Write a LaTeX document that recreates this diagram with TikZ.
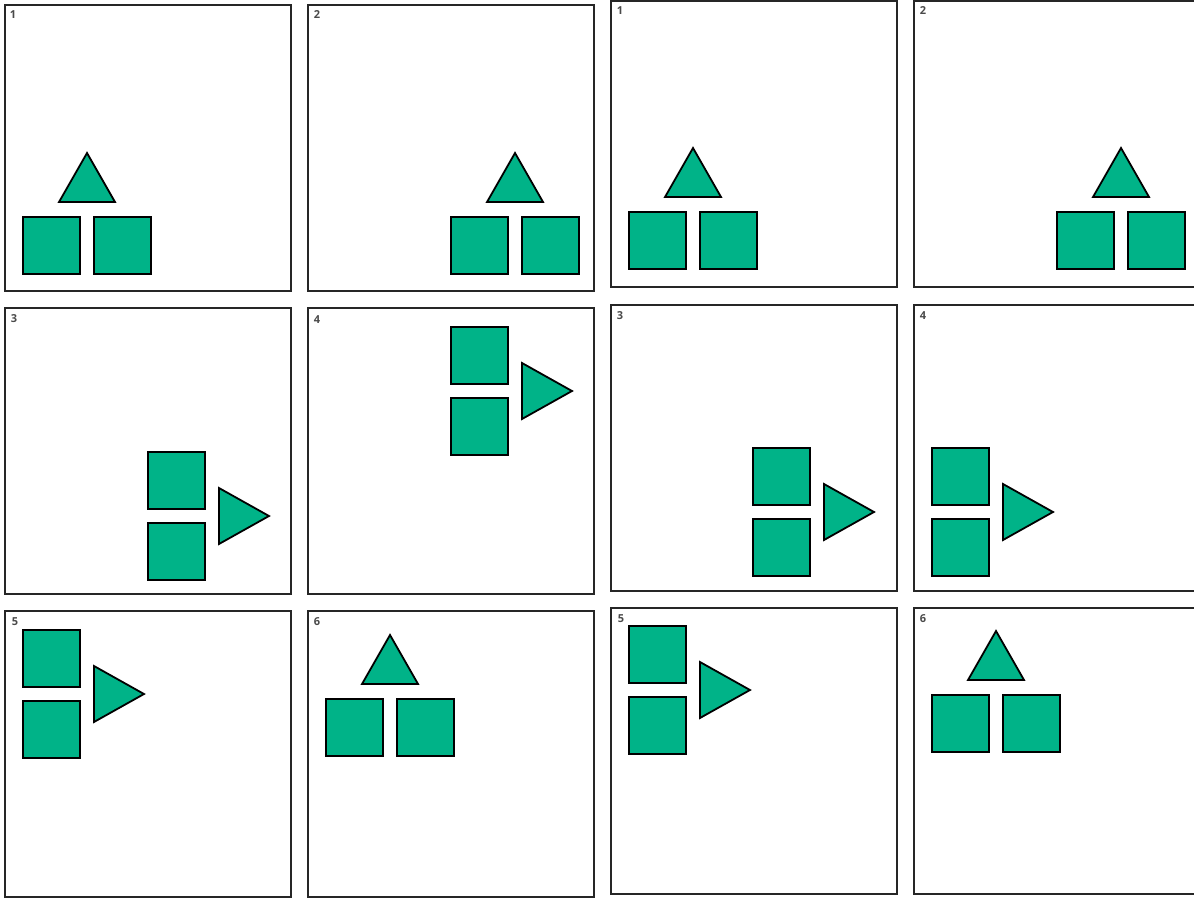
\documentclass[tikz,border=0pt]{standalone}
\usepackage{fontspec}
\setmainfont{Open Sans}
\definecolor{shapegreen}{HTML}{00B388}
\definecolor{lblgray}{HTML}{4A4A4A}
\tikzset{
  x=1pt, y=-1pt,
  panel/.style={draw=black!85, line width=2.2pt, fill=white},
  sq/.style={draw=black, line width=1.8pt, fill=shapegreen, minimum size=57pt, inner sep=0pt, outer sep=0pt},
  tri/.style={draw=black, line width=1.8pt, fill=shapegreen, line join=miter},
  lbl/.style={text=lblgray, font=\fontsize{11}{12}\selectfont\bfseries, inner sep=0pt},
  updown/.pic={
    \node[sq] (-a) at (28.5,28.5) {};
    \node[sq] (-b) at (99.5,28.5) {};
    \draw[tri] (64,-64) -- (36,-15) -- (92,-15) -- cycle;
  },
  rightgrp/.pic={
    \node[sq] (-a) at (28.5,28.5) {};
    \node[sq] (-b) at (28.5,99.5) {};
    \draw[tri] (71,36) -- (71,92) -- (121,64) -- cycle;
  }
}
\begin{document}
\begin{tikzpicture}
\useasboundingbox (0,0) rectangle (1194,899);
\clip (0,0) rectangle (1194,899);
\fill[white] (0,0) rectangle (1194,899);
% left set
\draw[panel] (5,5) rectangle ++(286,286);
\node[lbl] (L1) at (13,15) {1};
\pic (LP1) at (23,217) {updown};
\draw[panel] (308,5) rectangle ++(286,286);
\node[lbl] (L2) at (317,15) {2};
\pic (LP2) at (451,217) {updown};
\draw[panel] (5,308) rectangle ++(286,286);
\node[lbl] (L3) at (14,319) {3};
\pic (LP3) at (148,452) {rightgrp};
\draw[panel] (308,308) rectangle ++(286,286);
\node[lbl] (L4) at (317,320) {4};
\pic (LP4) at (451,327) {rightgrp};
\draw[panel] (5,611) rectangle ++(286,286);
\node[lbl] (L5) at (15,622) {5};
\pic (LP5) at (23,630) {rightgrp};
\draw[panel] (308,611) rectangle ++(286,286);
\node[lbl] (L6) at (317,622) {6};
\pic (LP6) at (326,699) {updown};
% right set
\draw[panel] (611,1) rectangle ++(286,286);
\node[lbl] (R1) at (620,11) {1};
\pic (RP1) at (629,212) {updown};
\draw[panel] (914,1) rectangle ++(286,286);
\node[lbl] (R2) at (923,11) {2};
\pic (RP2) at (1057,212) {updown};
\draw[panel] (611,305) rectangle ++(286,286);
\node[lbl] (R3) at (620,316) {3};
\pic (RP3) at (753,448) {rightgrp};
\draw[panel] (914,305) rectangle ++(286,286);
\node[lbl] (R4) at (923,316) {4};
\pic (RP4) at (932,448) {rightgrp};
\draw[panel] (611,608) rectangle ++(286,286);
\node[lbl] (R5) at (621,619) {5};
\pic (RP5) at (629,626) {rightgrp};
\draw[panel] (914,608) rectangle ++(286,286);
\node[lbl] (R6) at (923,619) {6};
\pic (RP6) at (932,695) {updown};
\end{tikzpicture}
\end{document}
